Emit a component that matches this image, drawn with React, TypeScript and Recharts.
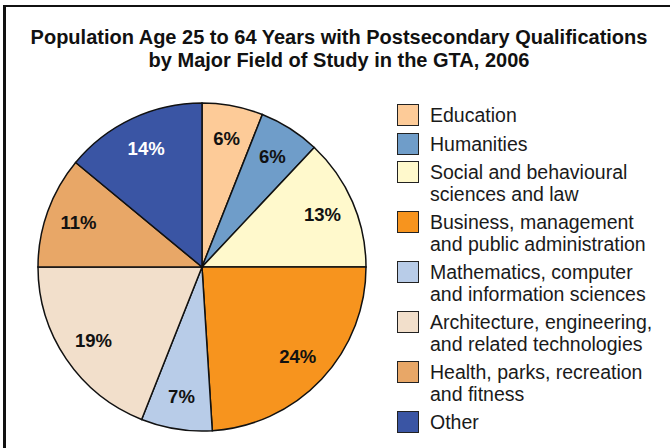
import React from 'react'
import { PieChart, Pie, Cell, Legend } from 'recharts'

const categories = [
  'Education',
  'Humanities',
  'Social and behavioural\nsciences and law',
  'Business, management\nand public administration',
  'Mathematics, computer\nand information sciences',
  'Architecture, engineering,\nand related technologies',
  'Health, parks, recreation\nand fitness',
  'Other',
]

const shares = [6, 6, 13, 24, 7, 19, 11, 14]

const COLORS = ['#FDCB98', '#6F9DC9', '#FFF9CC', '#F7941E', '#B8CCE8', '#F2DFCB', '#E8A767', '#3A55A4']

const TITLE_LINES = [
  'Population Age 25 to 64 Years with Postsecondary Qualifications',
  'by Major Field of Study in the GTA, 2006',
]

const FONT = '"Liberation Sans", Arial, Helvetica, sans-serif'

const chartData = categories.map((name, i) => ({ name, value: shares[i] }))

const RADIAN = Math.PI / 180

const renderLabel = ({ cx, cy, midAngle, outerRadius, value, index }: any) => {
  const r = outerRadius * 0.8
  const x = cx + r * Math.cos(-midAngle * RADIAN)
  const y = cy + r * Math.sin(-midAngle * RADIAN)
  return (
    <text
      x={x}
      y={y}
      textAnchor="middle"
      dominantBaseline="central"
      fill={index === categories.length - 1 ? '#fff' : '#111'}
      style={{ fontFamily: FONT, fontSize: 18.5, fontWeight: 700 }}
    >
      {`${value}%`}
    </text>
  )
}

const LegendContent = ({ payload }: any) => {
  // keep the slice order, not the alphabetical one
  const items = [...(payload || [])].sort(
    (a: any, b: any) => categories.indexOf(a.value) - categories.indexOf(b.value)
  )
  return (
    <div style={{ fontFamily: FONT, fontSize: 19.5, lineHeight: '21.5px', color: '#1a1a1a' }}>
      {items.map((entry: any) => {
        const idx = categories.indexOf(entry.value)
        return (
          <div key={entry.value} style={{ display: 'flex', alignItems: 'flex-start', marginBottom: 7 }}>
            <div
              style={{
                width: 20,
                height: 20,
                marginTop: -1,
                marginRight: 11,
                flexShrink: 0,
                background: COLORS[idx],
                border: '1px solid #222',
              }}
            />
            <div style={{ whiteSpace: 'nowrap' }}>
              {String(entry.value)
                .split('\n')
                .map((line) => (
                  <div key={line}>{line}</div>
                ))}
            </div>
          </div>
        )
      })}
    </div>
  )
}

export default function App() {
  return (
    <div
      style={{
        position: 'fixed',
        left: 0,
        top: 0,
        width: 670,
        height: 448,
        overflow: 'hidden',
        background: '#fff',
      }}
    >
      <div
        style={{
          position: 'absolute',
          left: 3,
          top: 5,
          width: 700,
          height: 460,
          borderTop: '2px solid #111',
          borderLeft: '3px solid #111',
        }}
      />
      <div
        style={{
          position: 'absolute',
          left: 4,
          top: 26,
          width: 670,
          textAlign: 'center',
          fontFamily: FONT,
          fontWeight: 700,
          fontSize: 20,
          lineHeight: '22.5px',
          color: '#111',
          whiteSpace: 'nowrap',
        }}
      >
        {TITLE_LINES.map((t) => (
          <div key={t}>{t}</div>
        ))}
      </div>
      <div style={{ position: 'absolute', left: 0, top: 0 }}>
        <PieChart width={670} height={448} margin={{ top: 0, right: 0, bottom: 0, left: 0 }}>
          <Pie
            data={chartData}
            dataKey="value"
            nameKey="name"
            cx={202}
            cy={267}
            outerRadius={164}
            startAngle={90}
            endAngle={-270}
            stroke="#111"
            strokeWidth={1.5}
            labelLine={false}
            label={renderLabel}
            isAnimationActive={false}
          >
            {chartData.map((entry, i) => (
              <Cell key={entry.name} fill={COLORS[i]} stroke="#111" strokeWidth={1.5} />
            ))}
          </Pie>
          <Legend
            layout="vertical"
            align="right"
            verticalAlign="top"
            content={<LegendContent />}
            wrapperStyle={{ left: 397, top: 105, width: 273 }}
          />
        </PieChart>
      </div>
    </div>
  )
}
